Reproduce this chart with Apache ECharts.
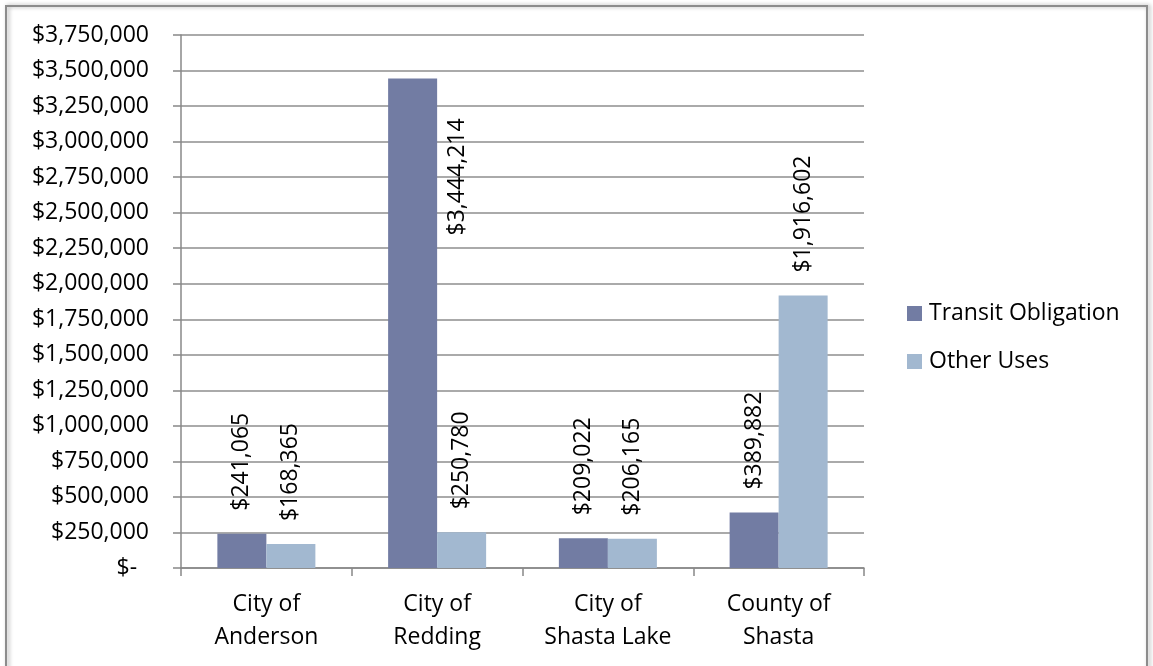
<!DOCTYPE html>
<html>
<head>
<meta charset="utf-8">
<script src="https://cdn.jsdelivr.net/npm/echarts@6/dist/echarts.min.js"></script>
<style>
html,body{margin:0;padding:0;background:#fff;}
#chart{width:1153px;height:666px;}
</style>
</head>
<body>
<div id="chart"></div>
<script>
const categories = ['City of\nAnderson', 'City of\nRedding', 'City of\nShasta Lake', 'County of\nShasta'];
const transitObligation = [241065, 3444214, 209022, 389882];
const otherUses = [168365, 250780, 206165, 1916602];
const seriesNames = ['Transit Obligation', 'Other Uses'];

const FONT = 'Open Sans';
const fmtMoney = v => v === 0 ? '$-  ' : '$' + v.toLocaleString('en-US');

const chart = echarts.init(document.getElementById('chart'));

const labelBase = {
  show: true,
  position: 'top',
  rotate: 90,
  align: 'left',
  verticalAlign: 'middle',
  distance: 23,
  color: '#000',
  fontFamily: FONT,
  fontSize: 23,
  formatter: p => fmtMoney(p.value)
};

const transitData = transitObligation.map((v, i) => {
  if (i === 1) {
    return { value: v, label: { position: [69, 157] } };
  }
  return v;
});

chart.setOption({
  animation: false,
  textStyle: { fontFamily: FONT },
  graphic: [{
    type: 'rect',
    shape: { x: 6, y: 6, width: 1141, height: 700 },
    style: { fill: 'none', stroke: '#8c8c8c', lineWidth: 2, shadowBlur: 4, shadowColor: 'rgba(0,0,0,0.35)', shadowOffsetX: 2, shadowOffsetY: 0 },
    silent: true, z: -1
  }],
  grid: { left: 181, right: 289, top: 35, bottom: 98, containLabel: false, outerBoundsMode: 'none' },
  legend: {
    orient: 'vertical',
    left: 907,
    top: 302,
    padding: 0,
    itemWidth: 15,
    itemHeight: 15,
    itemGap: 25,
    icon: 'rect',
    textStyle: { fontFamily: FONT, fontSize: 23, color: '#000', padding: [0, 0, 0, 2] },
    data: seriesNames
  },
  xAxis: {
    type: 'category',
    data: categories,
    axisLine: { show: true, lineStyle: { color: '#888', width: 1.5 } },
    axisTick: { show: true, length: 8, lineStyle: { color: '#888', width: 1.5 } },
    axisLabel: { color: '#000', fontFamily: FONT, fontSize: 23, lineHeight: 33, margin: 20 }
  },
  yAxis: {
    type: 'value',
    min: 0,
    max: 3750000,
    interval: 250000,
    axisLine: { show: true, lineStyle: { color: '#888', width: 1.5 } },
    axisTick: { show: true, length: 8, lineStyle: { color: '#888', width: 1.5 } },
    splitLine: { show: true, lineStyle: { color: '#8e8e8e', width: 1.5 } },
    axisLabel: { color: '#000', fontFamily: FONT, fontSize: 23, margin: 32, formatter: fmtMoney }
  },
  series: [
    {
      name: seriesNames[0],
      type: 'bar',
      data: transitData,
      barGap: '0%',
      barCategoryGap: '42.6%',
      itemStyle: { color: '#727ca3' },
      label: labelBase
    },
    {
      name: seriesNames[1],
      type: 'bar',
      data: otherUses,
      barGap: '0%',
      barCategoryGap: '42.6%',
      itemStyle: { color: '#a2b8d0' },
      label: labelBase
    }
  ]
});
</script>
</body>
</html>
